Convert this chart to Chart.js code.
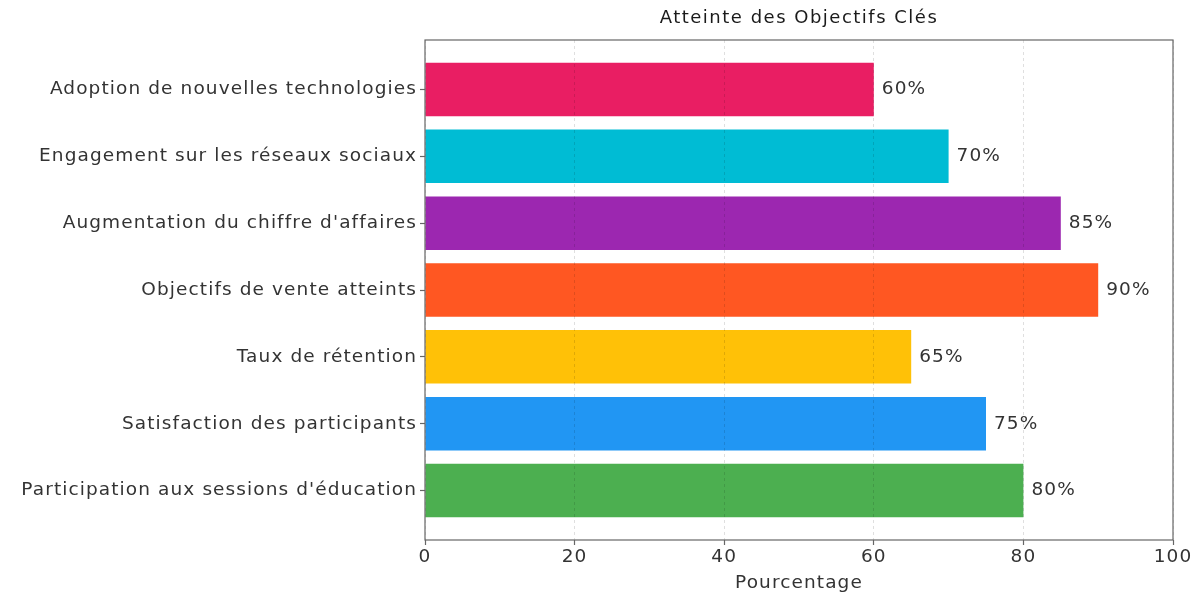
<!DOCTYPE html>
<html lang="fr">
<head>
<meta charset="utf-8">
<title>Atteinte des Objectifs Clés</title>
<script src="https://cdn.jsdelivr.net/npm/chart.js@4.4.1/dist/chart.umd.min.js"></script>
<style>
    html, body { margin: 0; padding: 0; background: #fff; }
    #wrap { width: 1202px; height: 599px; }
</style>
</head>
<body>
<div id="wrap"><canvas id="objectifs-chart"></canvas></div>
<script>
// Objectifs, du haut vers le bas
const categories = [
    "Adoption de nouvelles technologies",
    "Engagement sur les réseaux sociaux",
    "Augmentation du chiffre d'affaires",
    "Objectifs de vente atteints",
    "Taux de rétention",
    "Satisfaction des participants",
    "Participation aux sessions d'éducation"
];
const pourcentages = [60, 70, 85, 90, 65, 75, 80];
const couleurs = ["#E91E63", "#00BCD4", "#9C27B0", "#FF5722", "#FFC107", "#2196F3", "#4CAF50"];
const xTicks = [0, 20, 40, 60, 80, 100];

const titre = "Atteinte des Objectifs Clés";
const police = "'DejaVu Sans', sans-serif";
const taille = 18.5;
const espacement = "1.1px";

// texte un peu plus espacé, sur tout le canvas
const espacementPlugin = {
    id: "espacement",
    beforeInit(chart) { chart.ctx.letterSpacing = espacement; },
    beforeDraw(chart) { chart.ctx.letterSpacing = espacement; }
};

// cadre complet autour de la zone de tracé + titre centré sur les axes
const cadrePlugin = {
    id: "cadre",
    afterDraw(chart) {
        const { ctx, chartArea: a } = chart;
        ctx.save();
        ctx.strokeStyle = "#666";
        ctx.lineWidth = 1.2;
        ctx.strokeRect(a.left, a.top, a.right - a.left, a.bottom - a.top);
        ctx.fillStyle = "#1a1a1a";
        ctx.font = "18px " + police;
        ctx.letterSpacing = "1.5px";
        ctx.textAlign = "center";
        ctx.textBaseline = "middle";
        ctx.fillText(titre, (a.left + a.right) / 2, 18);
        ctx.restore();
    }
};

// étiquettes de valeur au bout des barres
const etiquettesPlugin = {
    id: "etiquettes",
    afterDatasetsDraw(chart) {
        const { ctx } = chart;
        const meta = chart.getDatasetMeta(0);
        ctx.save();
        ctx.fillStyle = "#333";
        ctx.font = taille + "px " + police;
        ctx.textAlign = "left";
        ctx.textBaseline = "middle";
        meta.data.forEach((bar, i) => {
            ctx.fillText(pourcentages[i] + "%", bar.x + 8, bar.y);
        });
        ctx.restore();
    }
};

const ctx = document.getElementById("objectifs-chart").getContext("2d");

new Chart(ctx, {
    type: "bar",
    data: {
        datasets: [
            {
                data: pourcentages.map((v, i) => ({ x: v, y: i })),
                backgroundColor: couleurs,
                borderWidth: 0,
                barPercentage: 0.8,
                categoryPercentage: 1,
            },
        ],
    },
    options: {
        indexAxis: "y",
        responsive: true,
        maintainAspectRatio: false,
        animation: false,
        layout: { padding: { top: 40, right: 29, bottom: 0, left: 0 } },
        plugins: {
            legend: { display: false },
            tooltip: { enabled: false },
        },
        scales: {
            x: {
                type: "linear",
                min: 0,
                max: 100,
                afterBuildTicks: (axis) => { axis.ticks = xTicks.map((v) => ({ value: v })); },
                afterFit: (axis) => { axis.height = 59; },
                grid: {
                    z: 1,
                    color: "rgba(0,0,0,0.16)",
                    lineWidth: 0.8,
                    tickColor: "#666",
                    tickLength: 5,
                    tickWidth: 1.2,
                    tickBorderDash: [],
                },
                border: { display: false, dash: [3, 3] },
                ticks: {
                    color: "#333",
                    font: { family: police, size: taille },
                    padding: 1,
                    maxRotation: 0,
                },
                title: {
                    display: true,
                    text: "Pourcentage",
                    color: "#333",
                    font: { family: police, size: taille },
                    padding: { top: 4, bottom: 5 },
                },
            },
            y: {
                type: "linear",
                min: -0.74,
                max: 6.74,
                reverse: true,
                offset: false,
                afterBuildTicks: (axis) => { axis.ticks = categories.map((_, i) => ({ value: i })); },
                afterFit: (axis) => { axis.width = 425; },
                grid: {
                    offset: false,
                    drawOnChartArea: false,
                    tickColor: "#666",
                    tickLength: 5,
                    tickWidth: 1.2,
                },
                border: { display: false },
                ticks: {
                    color: "#333",
                    font: { family: police, size: taille },
                    padding: 3,
                    autoSkip: false,
                    callback: (value) => categories[value],
                },
            },
        },
    },
    plugins: [espacementPlugin, etiquettesPlugin, cadrePlugin],
});
</script>
</body>
</html>
